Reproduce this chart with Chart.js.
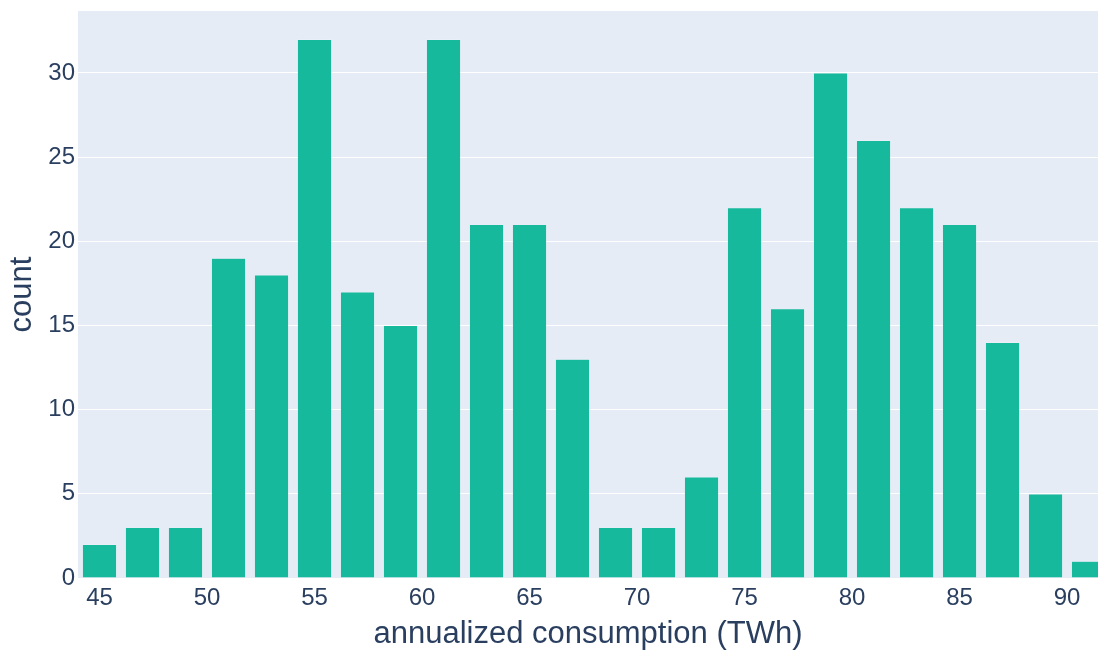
<!DOCTYPE html>
<html>
<head>
<meta charset="utf-8">
<title>annualized consumption histogram</title>
<script src="https://cdn.jsdelivr.net/npm/chart.js@4.4.1/dist/chart.umd.min.js"></script>
<style>
  html, body { margin: 0; padding: 0; background: #ffffff; }
  #wrap { width: 1098px; height: 650px; }
</style>
</head>
<body>
<div id="wrap"><canvas id="chart" width="1098" height="650"></canvas></div>
<script>
// Histogram bins (TWh), 2 TWh wide: centre of each bin and its count
const binCenters = [45, 47, 49, 51, 53, 55, 57, 59, 61, 63, 65, 67, 69, 71, 73, 75, 77, 79, 81, 83, 85, 87, 89, 91];
const binCounts  = [2, 3, 3, 19, 18, 32, 17, 15, 32, 21, 21, 13, 3, 3, 6, 22, 16, 30, 26, 22, 21, 14, 5, 1];

// Axis ticks
const xTicks = [45, 50, 55, 60, 65, 70, 75, 80, 85, 90];
const yTicks = [0, 5, 10, 15, 20, 25, 30];

const textColor = '#2a3f5f';
const fontFamily = '"Liberation Sans", Arial, sans-serif';

// Shaded plot area behind the bars
const plotBackground = {
  id: 'plotBackground',
  beforeDraw(chart) {
    const { ctx, chartArea: a } = chart;
    ctx.save();
    ctx.fillStyle = '#e5ecf6';
    ctx.fillRect(a.left, a.top, a.right - a.left, a.bottom - a.top);
    ctx.restore();
  }
};

new Chart(document.getElementById('chart'), {
  type: 'bar',
  data: {
    datasets: [{
      label: 'count',
      data: binCenters.map((x, i) => ({ x: x, y: binCounts[i] })),
      backgroundColor: '#16b99b',
      borderColor: 'rgba(255,255,255,0.35)',
      borderWidth: 0.6,
      categoryPercentage: 1.0,
      barPercentage: 0.8
    }]
  },
  options: {
    responsive: false,
    animation: false,
    devicePixelRatio: 1,
    layout: { padding: { top: 11, right: 0, left: 0, bottom: 0 } },
    plugins: {
      legend: { display: false },
      tooltip: { enabled: false }
    },
    scales: {
      x: {
        type: 'linear',
        offset: false,
        min: 44,
        max: 91.44,
        grid: { display: false, drawTicks: false },
        border: { display: false },
        afterBuildTicks(scale) { scale.ticks = xTicks.map(v => ({ value: v })); },
        afterFit(scale) {
          scale.height = 72;
          scale.paddingLeft = 0;
          scale.paddingRight = 0;
        },
        ticks: {
          padding: 6,
          color: textColor,
          font: { family: fontFamily, size: 24 },
          maxRotation: 0,
          autoSkip: false
        },
        title: {
          display: true,
          text: 'annualized consumption (TWh)',
          color: textColor,
          font: { family: fontFamily, size: 31 },
          padding: { top: 0, bottom: -3 }
        }
      },
      y: {
        type: 'linear',
        min: 0,
        max: 33.68,
        grid: { color: '#ffffff', lineWidth: 1, drawTicks: false },
        border: { display: false },
        afterBuildTicks(scale) { scale.ticks = yTicks.map(v => ({ value: v })); },
        afterFit(scale) {
          scale.width = 78;
          scale.paddingTop = 0;
          scale.paddingBottom = 0;
        },
        ticks: {
          padding: 3,
          color: textColor,
          font: { family: fontFamily, size: 24 }
        },
        title: {
          display: true,
          text: 'count',
          color: textColor,
          font: { family: fontFamily, size: 31 },
          padding: { top: 4, bottom: 0 }
        }
      }
    }
  },
  plugins: [plotBackground]
});
</script>
</body>
</html>
